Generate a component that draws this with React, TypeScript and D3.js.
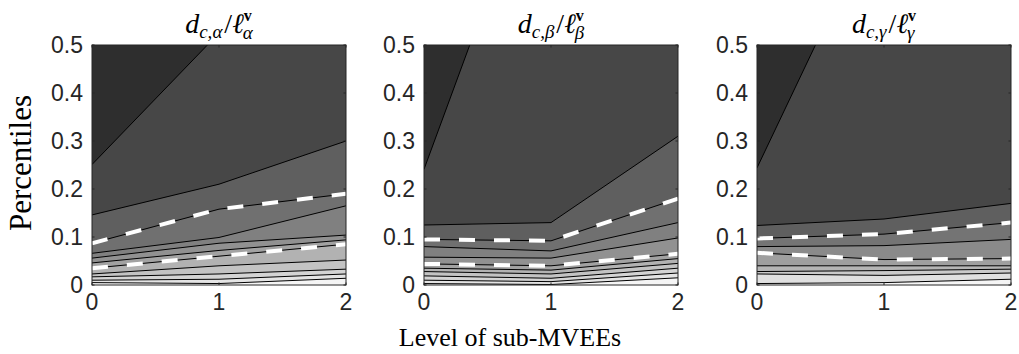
import React from 'react';
import * as d3 from 'd3';

// ---- data ----
const levels = [0, 1, 2];
const xTickLabels = ['0', '1', '2'];
const yTickValues = [0, 0.1, 0.2, 0.3, 0.4, 0.5];
const yTickLabels = ['0', '0.1', '0.2', '0.3', '0.4', '0.5'];
const greekSubs = ['α', 'β', 'γ'];

// contour lines, top to bottom, values at level 0, 1, 2
const alphaContours = [
  [0.251, 0.525, 0.8],
  [0.146, 0.21, 0.3],
  [0.087, 0.158, 0.19],
  [0.066, 0.099, 0.165],
  [0.056, 0.087, 0.104],
  [0.046, 0.072, 0.094],
  [0.035, 0.06, 0.085],
  [0.023, 0.04, 0.052],
  [0.017, 0.023, 0.033],
  [0.01, 0.012, 0.023],
  [0.005, 0.003, 0.014],
];
const alphaDashed = [2, 6];

const betaContours = [
  [0.241, 0.96, 1.6],
  [0.125, 0.13, 0.31],
  [0.095, 0.092, 0.18],
  [0.08, 0.071, 0.13],
  [0.058, 0.056, 0.098],
  [0.044, 0.04, 0.065],
  [0.035, 0.031, 0.055],
  [0.028, 0.023, 0.045],
  [0.019, 0.014, 0.035],
  [0.01, 0.007, 0.025],
  [0.003, 0.001, 0.015],
];
const betaDashed = [2, 5];

const gammaContours = [
  [0.244, 0.8, 1.36],
  [0.124, 0.1375, 0.17],
  [0.097, 0.106, 0.13],
  [0.08, 0.082, 0.095],
  [0.067, 0.053, 0.055],
  [0.04, 0.04, 0.04],
  [0.028, 0.03, 0.033],
  [0.023, 0.02, 0.025],
  [0.003, 0.005, 0.012],
];
const gammaDashed = [2, 4];

const panels = [
  { sub: greekSubs[0], contours: alphaContours, dashed: alphaDashed },
  { sub: greekSubs[1], contours: betaContours, dashed: betaDashed },
  { sub: greekSubs[2], contours: gammaContours, dashed: gammaDashed },
];

// ---- layout ----
const W = 1019;
const H = 354;
const lefts = [92, 424, 757];
const PW = 254;
const TOP = 45;
const PH = 240;
const AX = '#262626';
const SANS = '"Liberation Sans", Arial, Helvetica, sans-serif';
const SERIF = '"Liberation Serif", "Times New Roman", serif';

function bandColor(k: number, n: number): string {
  if (k === 0) return '#2e2e2e';
  if (k === 1) return '#474747';
  const s = d3.scaleLinear().domain([2, n]).range([95, 245]);
  const g = Math.round(s(k));
  return d3.rgb(g, g, g).formatHex();
}

function Panel({ idx }: { idx: number }) {
  const p = panels[idx];
  const x = d3.scaleLinear().domain([0, 2]).range([0, PW]);
  const y = d3.scaleLinear().domain([0, 0.5]).range([PH, 0]);
  const n = p.contours.length;
  const area = d3
    .area<number>()
    .x((_, j) => x(levels[j]))
    .y0(y(0))
    .y1((v) => y(v));
  const line = d3
    .line<number>()
    .x((_, j) => x(levels[j]))
    .y((v) => y(v));
  const clipId = `clip-${idx}`;
  const tl = 2.5;
  return (
    <g transform={`translate(${lefts[idx]},${TOP})`}>
      <defs>
        <clipPath id={clipId}>
          <rect x={0} y={0} width={PW} height={PH} />
        </clipPath>
      </defs>
      <g clipPath={`url(#${clipId})`}>
        <rect x={0} y={0} width={PW} height={PH} fill={bandColor(0, n)} />
        {p.contours.map((c, i) => (
          <path key={`a${i}`} d={area(c) || ''} fill={bandColor(i + 1, n)} />
        ))}
        {p.contours.map((c, i) => (
          <path key={`l${i}`} d={line(c) || ''} fill="none" stroke="#000" strokeWidth={1} />
        ))}
        {p.dashed.map((i) => (
          <path
            key={`d${i}`}
            d={line(p.contours[i]) || ''}
            fill="none"
            stroke="#fff"
            strokeWidth={4}
            strokeDasharray="16 19"
          />
        ))}
      </g>
      <rect x={0} y={0} width={PW} height={PH} fill="none" stroke={AX} strokeWidth={1} />
      {levels.map((l, i) => (
        <g key={`xt${i}`}>
          <line x1={x(l)} x2={x(l)} y1={PH} y2={PH - tl} stroke={AX} />
          <line x1={x(l)} x2={x(l)} y1={0} y2={tl} stroke={AX} />
          <text
            x={x(l)}
            y={PH + 25}
            textAnchor="middle"
            fontFamily={SANS}
            fontSize={23}
            fill={AX}
          >
            {xTickLabels[i]}
          </text>
        </g>
      ))}
      {yTickValues.map((v, i) => (
        <g key={`yt${i}`}>
          <line x1={0} x2={tl} y1={y(v)} y2={y(v)} stroke={AX} />
          <line x1={PW} x2={PW - tl} y1={y(v)} y2={y(v)} stroke={AX} />
          <text
            x={-9}
            y={y(v) + 8}
            textAnchor="end"
            fontFamily={SANS}
            fontSize={23}
            fill={AX}
          >
            {yTickLabels[i]}
          </text>
        </g>
      ))}
      <text
        x={PW / 2}
        y={-12}
        textAnchor="middle"
        fontFamily={SERIF}
        fontSize={28}
        fontStyle="italic"
        fill="#000"
      >
        d
        <tspan fontSize={19} dy={5}>
          c,{p.sub}
        </tspan>
        <tspan fontSize={28} fontStyle="normal" dy={-5} dx={2}>
          /
        </tspan>
        ℓ
        <tspan fontSize={16} fontWeight="bold" fontStyle="normal" dy={-12}>
          v
        </tspan>
        <tspan fontSize={19} dx={-9} dy={18}>
          {p.sub}
        </tspan>
      </text>
    </g>
  );
}

export default function App() {
  return (
    <div style={{ position: 'absolute', left: 0, top: 0 }}>
      <svg width={W} height={H} viewBox={`0 0 ${W} ${H}`} style={{ display: 'block', background: '#fff' }}>
        {panels.map((_, i) => (
          <Panel key={i} idx={i} />
        ))}
        <text
          transform={`translate(31,${TOP + PH / 2 - 2}) rotate(-90)`}
          textAnchor="middle"
          fontFamily={SERIF}
          fontSize={31}
          fill="#000"
        >
          Percentiles
        </text>
        <text
          x={510}
          y={346}
          textAnchor="middle"
          fontFamily={SERIF}
          fontSize={26}
          fill="#000"
        >
          Level of sub-MVEEs
        </text>
      </svg>
    </div>
  );
}
